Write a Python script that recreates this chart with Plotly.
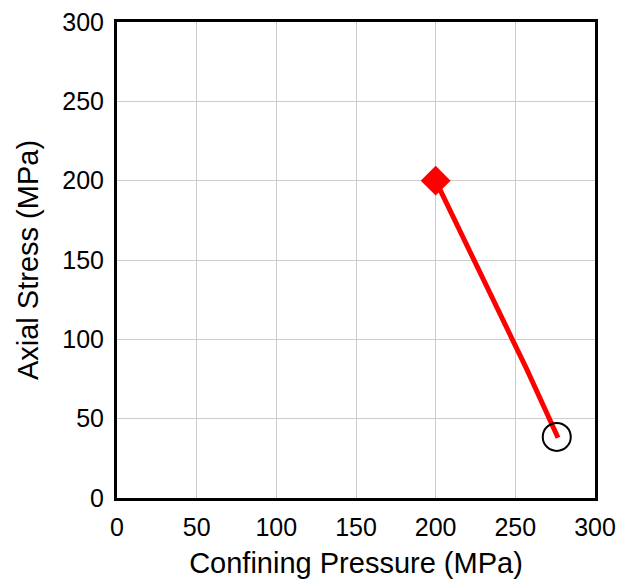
import plotly.graph_objects as go

# Stress path: confining pressure vs axial stress (MPa)
path_confining = [200, 255.9, 257.0, 276.8]
path_axial = [200, 82.5, 81.5, 38]

start_confining = [200]
start_axial = [200]

end_confining = [276]
end_axial = [38.5]

axis_ticks = [0, 50, 100, 150, 200, 250, 300]

FONT = "Liberation Sans, Arial, sans-serif"

fig = go.Figure()

fig.add_trace(go.Scatter(
    x=path_confining, y=path_axial, mode="lines",
    line=dict(color="#ff0000", width=5), showlegend=False, hoverinfo="skip",
))
fig.add_trace(go.Scatter(
    x=start_confining, y=start_axial, mode="markers",
    marker=dict(symbol="diamond", size=23, color="#ff0000", line=dict(width=0)),
    showlegend=False,
))
fig.add_trace(go.Scatter(
    x=end_confining, y=end_axial, mode="markers",
    marker=dict(symbol="circle-open", size=28, color="black", line=dict(width=2, color="black")),
    showlegend=False,
))

axis_common = dict(
    range=[0, 300], tickvals=axis_ticks, automargin=False,
    ticks="outside", ticklen=5, tickcolor="rgba(0,0,0,0)",
    showline=True, linecolor="black", linewidth=3, mirror=True,
    showgrid=True, gridcolor="#cccccc", gridwidth=1, zeroline=False,
    tickfont=dict(family=FONT, size=25, color="black"),
)

fig.update_xaxes(
    title=dict(text="Confining Pressure (MPa)", font=dict(family=FONT, size=29, color="black"), standoff=13),
    **axis_common,
)
fig.update_yaxes(
    title=dict(text="Axial Stress (MPa)", font=dict(family=FONT, size=29, color="black"), standoff=16),
    **axis_common,
)

fig.update_layout(
    width=622, height=582,
    margin=dict(l=117, r=27, t=22, b=84),
    plot_bgcolor="white", paper_bgcolor="white",
)

fig.write_html("out.html")
